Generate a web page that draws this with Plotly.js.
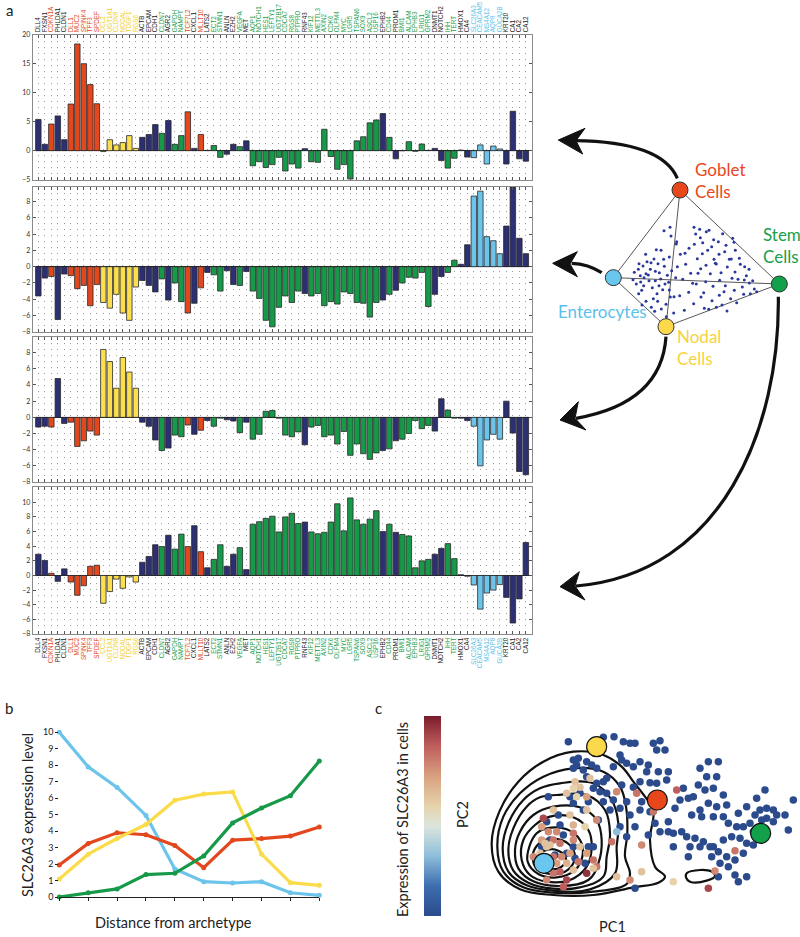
<!DOCTYPE html>
<html><head><meta charset="utf-8">
<script src="https://cdn.plot.ly/plotly-3.0.1.min.js"></script>
<style>html,body{margin:0;padding:0;background:#fff}#chart{width:800px;height:937px}</style>
</head><body><div id="chart"></div>
<script>
// ---------- DATA ----------
const genes = ['DLL4','FXSN1','CDKN1A','PHLDA1','CLDN1','DLL1','MUC2','SPINK4','TFF3','SPDEF',
 'CCL2','UGT1A1','CLDN8','NODAL','TDGF1','RGS6','ACTB','EPCAM','CDH1','CLDN7',
 'AGR2','GAPDH','NAMPT','TCF7L2','CXCL1','MLLT10','LATS2','ECT2','STMN1','ANLN',
 'EZH2','VEGFA','MET','AQP1','NOTCH1','HES1','LEFTY1','UGT2B17','CDCA7','RGS8',
 'PTPRO','RNF43','KIF12','METTL3','AXIN2','CDK6','OLFM4','MYC','LGR5','TSPAN6',
 'SOX9','ASCL2','USP16','EPHB2','CD44','PROM1','BMI1','ALCAM','EPHB3','LRIG1',
 'GPRM2','DNMT1','NOTCH2','IHH','TERT','HMOX1','CA4','SLC26A3','CEACAM5','MS4A12',
 'AQP8','GUCA2B','KRT20','CA1','CA2','CA12'];
const geneGroup = ['k','k','r','k','k','r','r','r','r','r',
 'y','y','y','y','y','y','k','k','k','g',
 'k','g','g','r','k','r','k','g','g','k',
 'k','g','k','g','g','g','g','g','g','g',
 'g','k','g','g','g','g','g','g','g','g',
 'g','g','g','k','g','k','g','g','g','g',
 'g','k','k','g','g','k','k','b','b','b',
 'b','b','k','k','k','k'];
const gobletScores = [5.4,1.1,4.6,6.0,1.9,8.05,18.4,15.0,11.4,8.1,
 -0.15,1.9,1.0,1.4,2.6,0.4,2.3,2.8,4.5,3.0,
 5.2,1.1,2.6,6.7,0.4,2.8,0.05,0.9,-1.15,-0.6,
 1.1,0.7,1.7,-2.6,-1.9,-2.9,-2.4,-1.15,-3.5,-2.3,
 -3.0,0.35,-1.9,-2.0,3.7,-1.0,-3.2,-2.4,-4.9,1.7,
 2.4,4.8,5.3,6.4,2.3,-1.4,0.0,1.55,-0.1,1.15,
 0.05,0.4,-1.7,-3.0,-1.3,0.1,-1.1,-1.2,1.0,-2.3,
 0.8,0.3,-2.3,6.8,-1.4,-1.8];
const enterocyteScores = [-3.6,-1.4,-1.2,-6.5,-0.9,-1.1,-2.7,-2.3,-4.8,-2.2,
 -4.4,-5.1,-3.4,-5.7,-6.6,-2.5,-1.7,-2.3,-3.1,-1.5,
 -4.1,-2.0,-4.3,-5.7,-4.5,-2.6,-0.7,-1.0,-3.0,-0.5,
 -2.2,-2.3,-0.6,-3.0,-3.9,-6.6,-7.4,-5.0,-3.6,-4.4,
 -3.0,-3.3,-3.6,-3.3,-4.8,-4.3,-4.6,-3.1,-3.3,-4.4,
 -4.5,-6.2,-4.4,-4.1,-3.4,-2.9,-2.0,-1.3,-1.4,-0.7,
 -4.9,-3.4,-1.2,-0.7,0.8,0.3,2.7,8.7,9.3,3.7,
 3.2,1.6,5.0,9.8,3.5,1.6];
const nodalScores = [-1.2,-1.1,-1.2,4.8,-0.75,-0.6,-3.6,-2.9,-1.7,-2.2,
 8.4,6.9,3.6,7.4,5.6,3.6,-0.6,-1.1,-2.8,-4.1,
 -3.8,-2.2,-2.4,-0.95,-2.1,-1.6,-0.4,-1.1,-0.1,-0.3,
 -0.45,-1.9,-0.6,-2.7,-2.1,0.75,0.85,-0.1,-2.2,-2.4,
 -1.8,-3.4,-1.2,-1.0,-2.4,-2.2,-3.3,-1.75,-4.7,-3.3,
 -4.5,-5.2,-4.4,-4.1,-3.9,-2.9,-2.7,-2.0,-0.4,-1.4,
 -1.0,-1.7,2.3,0.9,-0.1,-0.1,-0.4,-1.1,-6.0,-2.8,
 -2.1,-2.7,2.0,-1.95,-6.7,-7.1];
const stemScores = [2.9,2.05,0.3,-0.8,0.9,-0.9,-2.7,-1.4,1.25,1.4,
 -3.8,-2.2,-0.5,-1.75,-0.2,-0.9,1.8,2.6,4.2,3.95,
 5.5,3.6,5.65,3.95,6.8,3.25,1.05,2.2,4.2,1.25,
 2.9,3.8,0.8,7.0,7.35,7.8,8.1,5.95,8.0,8.5,
 7.1,7.3,5.95,5.7,5.9,7.3,9.8,6.1,10.6,7.6,
 7.0,7.7,8.85,6.0,7.0,5.9,5.6,5.4,1.05,2.0,
 2.2,2.9,3.7,4.35,2.3,0.1,-0.1,-1.3,-4.6,-2.4,
 -2.0,-1.25,-3.0,-6.5,-3.2,4.5];
const panelScores = [gobletScores, enterocyteScores, nodalScores, stemScores];
const panelRanges = [[-5,20],[-8,9.85],[-8,9.9],[-8,12.05]];
const panelTicks = [[-5,0,5,10,15,20],[-8,-6,-4,-2,0,2,4,6,8],[-8,-6,-4,-2,0,2,4,6,8],[-8,-6,-4,-2,0,2,4,6,8,10]];

// panel b
const distanceSteps = [0,1,2,3,4,5,6,7,8,9];
const bEnterocyte = [10.0,7.9,6.65,4.95,1.7,0.93,0.85,0.93,0.26,0.1];
const bGoblet = [1.94,3.25,3.9,3.78,3.13,1.78,3.45,3.55,3.7,4.25];
const bNodal = [1.09,2.6,3.55,4.4,5.88,6.25,6.38,2.6,0.87,0.71];
const bStem = [0.0,0.26,0.49,1.36,1.44,2.49,4.5,5.4,6.15,8.25];
const bTicks = [0,1,2,3,4,5,6,7,8,9,10];

// panel c (PC1, PC2 in picture units)
const cellPC1 = [685,700,715,740,700,730,755,790,822,840,850,870,885,860,880,845,820,800,790,770,740,760,780,800,820,845,880,900,930,950,980,985,955,920,900,940,960,975,950,905,860,840,870,900,930,945,985,1005,1020,1045,1060,1030,1075,1080,1105,1135,1130,1100,1095,1120,1150,1160,1130,1105,1080,1055,1085,1120,1150,1165,1190,1210,1230,1245,1260,1280,1300,1310,1335,1360,1275,1250,1220,1195,1345,1300,1280,1265,1240,1220,1240,1210,1185,1160,1135,1110,1090,1065,1040,1025,1000,985,1050,1045,1080,1115,1140,1165,1185,1220,1195,1135,1120,1150,1175,1200,1000,960,885,625,655,700,730,745,690,720,790,810,775,670,700,745,620,660,705,735,760,840,860,885,925,630,645,680,605,
 710,770,925,705,750,720,700,680,710,740,830,890,1010,940,640,690,740,770,735,700,610,605,625,650,640,605,620,660,700,720,690,665,640,600,580,650,680,715,740,760,700,660,640,620,680,670,740,770,815,830,870,905,905,1000,1125,1105,1185,630,615,700,830,620,595,760];
const cellPC2 = [125,180,175,185,205,210,195,112,110,165,125,130,130,190,200,180,200,235,245,250,230,265,275,280,300,255,262,245,248,250,240,215,215,215,185,130,122,150,150,305,305,325,345,330,335,370,365,325,300,295,290,265,255,205,185,185,230,230,270,265,285,315,320,310,330,345,350,350,350,370,380,380,370,345,330,325,330,345,345,300,270,295,320,340,390,365,355,360,395,430,435,460,480,470,455,440,425,415,410,395,400,395,440,470,440,470,490,500,525,530,545,530,440,420,410,415,440,395,565,290,345,310,330,305,290,280,305,330,360,405,440,440,365,375,475,490,440,380,410,380,405,420,465,460,440,
 195,205,195,245,235,262,265,280,290,290,275,280,270,335,330,345,330,360,380,400,355,380,395,395,420,420,440,430,420,440,460,470,470,460,470,490,490,485,460,480,510,515,520,540,540,560,520,500,425,530,540,435,515,545,513,565,452,435,430,375,395,500,500,505];
const cellExpr = [0,0,0,0,0,0,0,0,0,0,0,0,0,0,0,0,0,0,0,0,0,0,0,0,0,0,0,0,0,0,0,0,0,0,0,0,0,0,0,0,0,0,0,0,0,0,0,0,0,0,0,0,0,0,0,0,0,0,0,0,0,0,0,0,0,0,0,0,0,0,0,0,0,0,0,0,0,0,0,0,0,0,0,0,0,0,0,0,0,0,0,0,0,0,0,0,0,0,0,0,0,0,0,0,0,0,0,0,0,0,0,0,0,0,0,0,0,0,0,0,0,0,0,0,0,0,0,0,0,0,0,0,0,0,0,0,0,0,0,0,0,0,0,0,0,0,0,0,
 0.6,0.6,0.6,0.55,0.6,0.55,0.7,0.75,0.8,0.85,0.8,0.6,0.6,0.6,0.75,0.55,0.8,0.9,0.7,0.75,0.75,0.8,0.7,0.6,0.8,0.75,0.6,0.7,0.75,0.8,0.6,0.75,0.7,0.65,0.8,0.7,0.8,0.6,0.85,0.8,0.75,0.9,0.85,0.95,0.8,0.8,0.6,0.75,0.75,0.6,0.55,0.75,0.9,0.8,0.6,0.6,0.65,0.3,0.25,0.6,0.6,0.6,0.75,0.7];
const archetypeNames = ['Nodal','Goblet','Enterocytes','Stem'];
const archetypePC1 = [770,952,612,1262];
const archetypePC2 = [140,300,490,400];
const contourPC1 = [
 [700,790,845,880,915,940,930,945,975,955,880,760,640,540,475,455,478,535,610,700],
 [700,790,840,858,862,855,870,860,760,640,550,490,472,490,540,610,700],
 [660,760,815,835,830,825,750,640,560,505,488,505,550,600,660],
 [650,740,795,810,800,790,720,640,565,520,505,520,560,600,650],
 [640,720,770,785,775,745,660,580,535,525,540,580,640],
 [630,700,745,755,740,690,620,570,545,550,585,630],
 [620,680,720,728,705,650,595,563,568,590,620],
 [615,665,700,702,675,630,590,578,590,615],
 [620,655,678,665,630,600,595,620],
 [1040,1080,1115,1125,1100,1050,1038,1040]];
const contourPC2 = [
 [155,165,200,245,290,330,420,500,530,548,562,585,585,568,515,430,335,245,185,155],
 [205,215,260,320,400,470,520,552,575,578,562,515,440,350,280,230,205],
 [250,250,300,370,440,520,568,572,556,515,445,370,300,265,250],
 [285,285,330,400,470,530,562,566,548,512,450,385,320,292,285],
 [320,322,360,420,490,540,558,544,505,450,395,345,320],
 [350,352,390,440,500,540,545,525,480,420,375,350],
 [385,388,420,465,510,532,522,485,440,400,385],
 [420,420,450,485,515,522,505,470,438,420],
 [450,452,475,500,508,495,470,450],
 [520,510,515,528,542,545,532,520]];

// tetrahedron projection (picture units)
const vertexNames = ['Goblet','Enterocytes','Nodal','Stem'];
const vertexX = [1020,820,978,1318];
const vertexY = [240,503,650,522];
const tetraX = [883,897,912,889,931,905,946,921,958,937,973,951,901,986,918,964,942,995,879,927,909,968,954,934,991,1007,917,949,988,896,978,1001,963,940,925,982,957,911,1012,971,895,933,946,962,902,918,975,953,988,1021,1037,1028,1046,1061,1019,1033,993,1009,1047,972,1052,
 1067,1088,1103,1121,1137,1158,1174,1129,1111,1082,1097,1119,1143,1162,1185,1201,1219,1238,1207,1183,1156,1138,1116,1091,1172,1211,1243,1161,1129,1186,1198,1148,1107,1072,1168,1227,1228,1194,1079,1098,1139,1152,1176,1250,1213,1122,1087,1063,1154,1182,1106,1146,1190,1231,1069,1083,
 1062,1099,1081,990,1010,1135,1115,1074,1035,906,944,979,1002,1058,1126,1178,1214,1093];
const tetraY = [487,461,503,522,478,541,512,455,488,533,469,551,497,517,574,597,447,482,509,512,468,539,461,592,561,503,433,419,441,551,583,609,421,566,495,496,527,527,470,448,478,458,484,507,516,491,522,574,540,433,463,508,547,581,557,601,378,402,415,362,490,
 372,398,421,389,433,406,447,462,491,476,515,529,488,471,486,463,497,512,531,541,527,556,572,548,566,553,537,603,592,421,445,371,361,446,448,478,519,508,358,466,511,545,505,545,510,448,431,403,425,397,598,585,578,551,522,561,
 352,365,383,352,395,395,410,490,430,585,604,620,560,520,460,385,470,595];

// ---------- STYLE ----------
const W = 800, H = 937;
const FONT = 'Lato, "Open Sans", sans-serif';
const NARROW = '"Liberation Sans Narrow", "Liberation Sans", Arial, sans-serif';
const barColor = {k:'#2C2F72', r:'#E2471E', y:'#FBDF4F', g:'#17994A', b:'#6CC4EB'};
const labelColor = {k:'#1a1a1a', r:'#E2471E', y:'#F2CF2E', g:'#1AA04C', b:'#5BBFEA'};
const ydom = (top, bottom) => [1 - bottom / H, 1 - top / H];
const px = v => v / W, py = v => 1 - v / H;

const idx = genes.map((g, i) => i);
const tickText = genes.map((g, i) => `<span style="color:${labelColor[geneGroup[i]]}">${g}</span>`);
const panelBox = [[34.7,179.7],[186.7,331.7],[337.3,482],[487.3,634]];

const data = [];
const layout = {
  width: W, height: H, margin: {l:0, r:0, t:0, b:0},
  paper_bgcolor: '#fff', plot_bgcolor: 'rgba(0,0,0,0)',
  showlegend: false, bargap: 0.16, font: {family: FONT, color: '#222'},
  annotations: [], shapes: []
};

for (let p = 0; p < 4; p++) {
  const s = p === 0 ? '' : String(p + 1);
  data.push({
    type: 'bar', x: idx, y: panelScores[p], xaxis: 'x' + s, yaxis: 'y' + s,
    marker: {color: geneGroup.map(g => barColor[g]), line: {color: '#2a2a2a', width: 0.8}},
    hoverinfo: 'x+y'
  });
  layout['xaxis' + s] = {
    domain: [33 / W, 531.7 / W], range: [-0.82, 75.9], anchor: 'y' + s,
    tickmode: 'array', tickvals: idx, ticktext: tickText,
    showticklabels: p === 0 || p === 3, side: p === 0 ? 'top' : 'bottom',
    tickangle: -90, tickfont: {family: NARROW, size: 6.3},
    ticks: 'inside', ticklen: 3, tickwidth: 1, tickcolor: '#555', mirror: 'ticks',
    showline: true, linecolor: '#8a8a8a', linewidth: 1.2,
    showgrid: true, gridcolor: '#9a9a9a', gridwidth: 1, griddash: '1px,5px',
    zeroline: false, fixedrange: true
  };
  layout['yaxis' + s] = {
    domain: ydom(panelBox[p][0], panelBox[p][1]), range: panelRanges[p], anchor: 'x' + s,
    tickmode: 'array', tickvals: panelTicks[p], tickfont: {family: FONT, size: 7, color: '#333'},
    ticks: 'inside', ticklen: 3, tickcolor: '#555', mirror: 'ticks',
    showline: true, linecolor: '#8a8a8a', linewidth: 1.2, showgrid: false,
    zeroline: true, zerolinecolor: '#222', zerolinewidth: 1.2, fixedrange: true
  };
}

// panel b
const bSeries = [[bEnterocyte,'#6CC4EB'],[bGoblet,'#E2471E'],[bNodal,'#FADC4A'],[bStem,'#17994A']];
bSeries.forEach(([ys, c]) => data.push({
  type: 'scatter', mode: 'lines+markers', x: distanceSteps, y: ys, xaxis: 'x5', yaxis: 'y5',
  line: {color: c, width: 3.2}, marker: {color: c, size: 5}, cliponaxis: false
}));
layout.xaxis5 = {domain: [59.3 / W, 319.3 / W], range: [0, 9], anchor: 'y5',
  tickvals: distanceSteps, showticklabels: false, ticks: 'outside', ticklen: 3, tickcolor: '#222',
  showline: true, linecolor: '#222', linewidth: 1, showgrid: false, zeroline: false};
layout.yaxis5 = {domain: ydom(732.3, 897), range: [0, 10], anchor: 'x5',
  tickvals: bTicks, tickfont: {family: FONT, size: 9, color: '#222'},
  ticks: 'outside', ticklen: 3, tickcolor: '#222', showline: false, showgrid: false, zeroline: false};

// panel c
contourPC1.forEach((xs, k) => data.push({
  type: 'scatter', mode: 'lines', x: xs, y: contourPC2[k], xaxis: 'x6', yaxis: 'y6',
  line: {color: '#111', width: 2.2, shape: 'spline', smoothing: 1.1}, hoverinfo: 'skip'
}));
const cScale = [[0,'#2B4B8C'],[0.15,'#3C6DAE'],[0.3,'#8EBEDB'],[0.45,'#DCE5DC'],[0.55,'#E6D3AC'],[0.7,'#D8A07E'],[0.85,'#BF5E5E'],[1,'#7A1C2C']];
data.push({
  type: 'scatter', mode: 'markers', x: cellPC1, y: cellPC2, xaxis: 'x6', yaxis: 'y6',
  marker: {size: 7.5, color: cellExpr, cmin: 0, cmax: 1, colorscale: cScale, showscale: true,
    colorbar: {x: 424 / W, xanchor: 'left', xpad: 0, ypad: 0, thickness: 17, len: 200 / H, lenmode: 'fraction',
      y: py(816), yanchor: 'middle', showticklabels: false, ticks: '', outlinewidth: 0}}
});
data.push({
  type: 'scatter', mode: 'markers', x: archetypePC1, y: archetypePC2, xaxis: 'x6', yaxis: 'y6',
  text: archetypeNames, marker: {size: 20, color: ['#FCD94A','#E8471C','#69C6EE','#13A04A'], line: {color: '#111', width: 1.2}}
});
layout.xaxis6 = {domain: [340 / W, 1], range: [0, 1380], anchor: 'y6', visible: false, fixedrange: true};
layout.yaxis6 = {domain: [0, py(700)], range: [711, 0], anchor: 'x6', visible: false, fixedrange: true};

// tetrahedron
layout.xaxis7 = {domain: [340 / W, 1], range: [0, 1380], anchor: 'y7', visible: false, fixedrange: true};
layout.yaxis7 = {domain: [py(610), py(110)], range: [1500, 0], anchor: 'x7', visible: false, fixedrange: true};
const edges = [[0,1],[0,2],[0,3],[1,3],[1,2],[2,3]];
edges.forEach(([a, b]) => layout.shapes.push({type: 'line', xref: 'x7', yref: 'y7', layer: 'below',
  x0: vertexX[a], y0: vertexY[a], x1: vertexX[b], y1: vertexY[b], line: {color: '#444', width: 0.9}}));
data.push({type: 'scatter', mode: 'markers', x: tetraX, y: tetraY, xaxis: 'x7', yaxis: 'y7',
  marker: {size: 3, color: '#2B3A9A'}});
data.push({type: 'scatter', mode: 'markers', x: vertexX, y: vertexY, xaxis: 'x7', yaxis: 'y7', text: vertexNames,
  marker: {size: 16, color: ['#E8471C','#69C6EE','#FCD94A','#13A04A'], line: {color: '#333', width: 1}}});

const arrowLines = ['M1012,205 Q965,95 705,92', 'M785,488 Q745,462 695,460',
  'M978,680 Q965,880 708,925', 'M1315,560 C1320,950 1150,1390 708,1428'];
const arrowHeads = ['M655,90 L735,55 L708,92 L728,132 Z', 'M638,460 L712,425 L690,462 L712,500 Z',
  'M660,930 L715,875 L705,925 L738,960 Z', 'M660,1430 L718,1385 L705,1428 L735,1470 Z'];
arrowLines.forEach(p => layout.shapes.push({type: 'path', xref: 'x7', yref: 'y7', path: p, line: {color: '#111', width: 3.2}}));
arrowHeads.forEach(p => layout.shapes.push({type: 'path', xref: 'x7', yref: 'y7', path: p, fillcolor: '#111', line: {color: '#111', width: 1}}));

// text
const ann = (x, y, text, o = {}) => layout.annotations.push(Object.assign({
  xref: 'paper', yref: 'paper', x: px(x), y: py(y), text, showarrow: false,
  xanchor: 'center', yanchor: 'middle', font: {family: FONT, size: 15, color: '#222'}
}, o));
ann(9, 10, 'a', {font: {family: FONT, size: 15, color: '#222'}});
ann(9, 708, 'b', {font: {family: FONT, size: 15, color: '#222'}});
ann(378, 708, 'c', {font: {family: FONT, size: 15, color: '#222'}});
ann(693, 180, 'Goblet<br>Cells', {xanchor: 'left', align: 'left', font: {family: FONT, size: 17, color: '#E8471C'}});
ann(761, 246, 'Stem<br>Cells', {xanchor: 'left', align: 'left', font: {family: FONT, size: 17, color: '#17A04A'}});
ann(602, 312, 'Enterocytes', {font: {family: FONT, size: 17, color: '#5BC0EB'}});
ann(675, 347, 'Nodal<br>Cells', {xanchor: 'left', align: 'left', font: {family: FONT, size: 17, color: '#F6D33C'}});
ann(27, 815, 'SLC26A3 expression level', {textangle: -90, font: {family: FONT, size: 14.5, color: '#222'}});
ann(173, 922, 'Distance from archetype', {font: {family: FONT, size: 14.5, color: '#222'}});
ann(402, 819, 'Expression of SLC26A3 in cells', {textangle: -90, font: {family: FONT, size: 14.5, color: '#222'}});
ann(462, 815, 'PC2', {textangle: -90, font: {family: FONT, size: 14.5, color: '#222'}});
ann(612, 926, 'PC1', {font: {family: FONT, size: 14.5, color: '#222'}});

Plotly.newPlot('chart', data, layout, {staticPlot: true, displayModeBar: false});
</script></body></html>
